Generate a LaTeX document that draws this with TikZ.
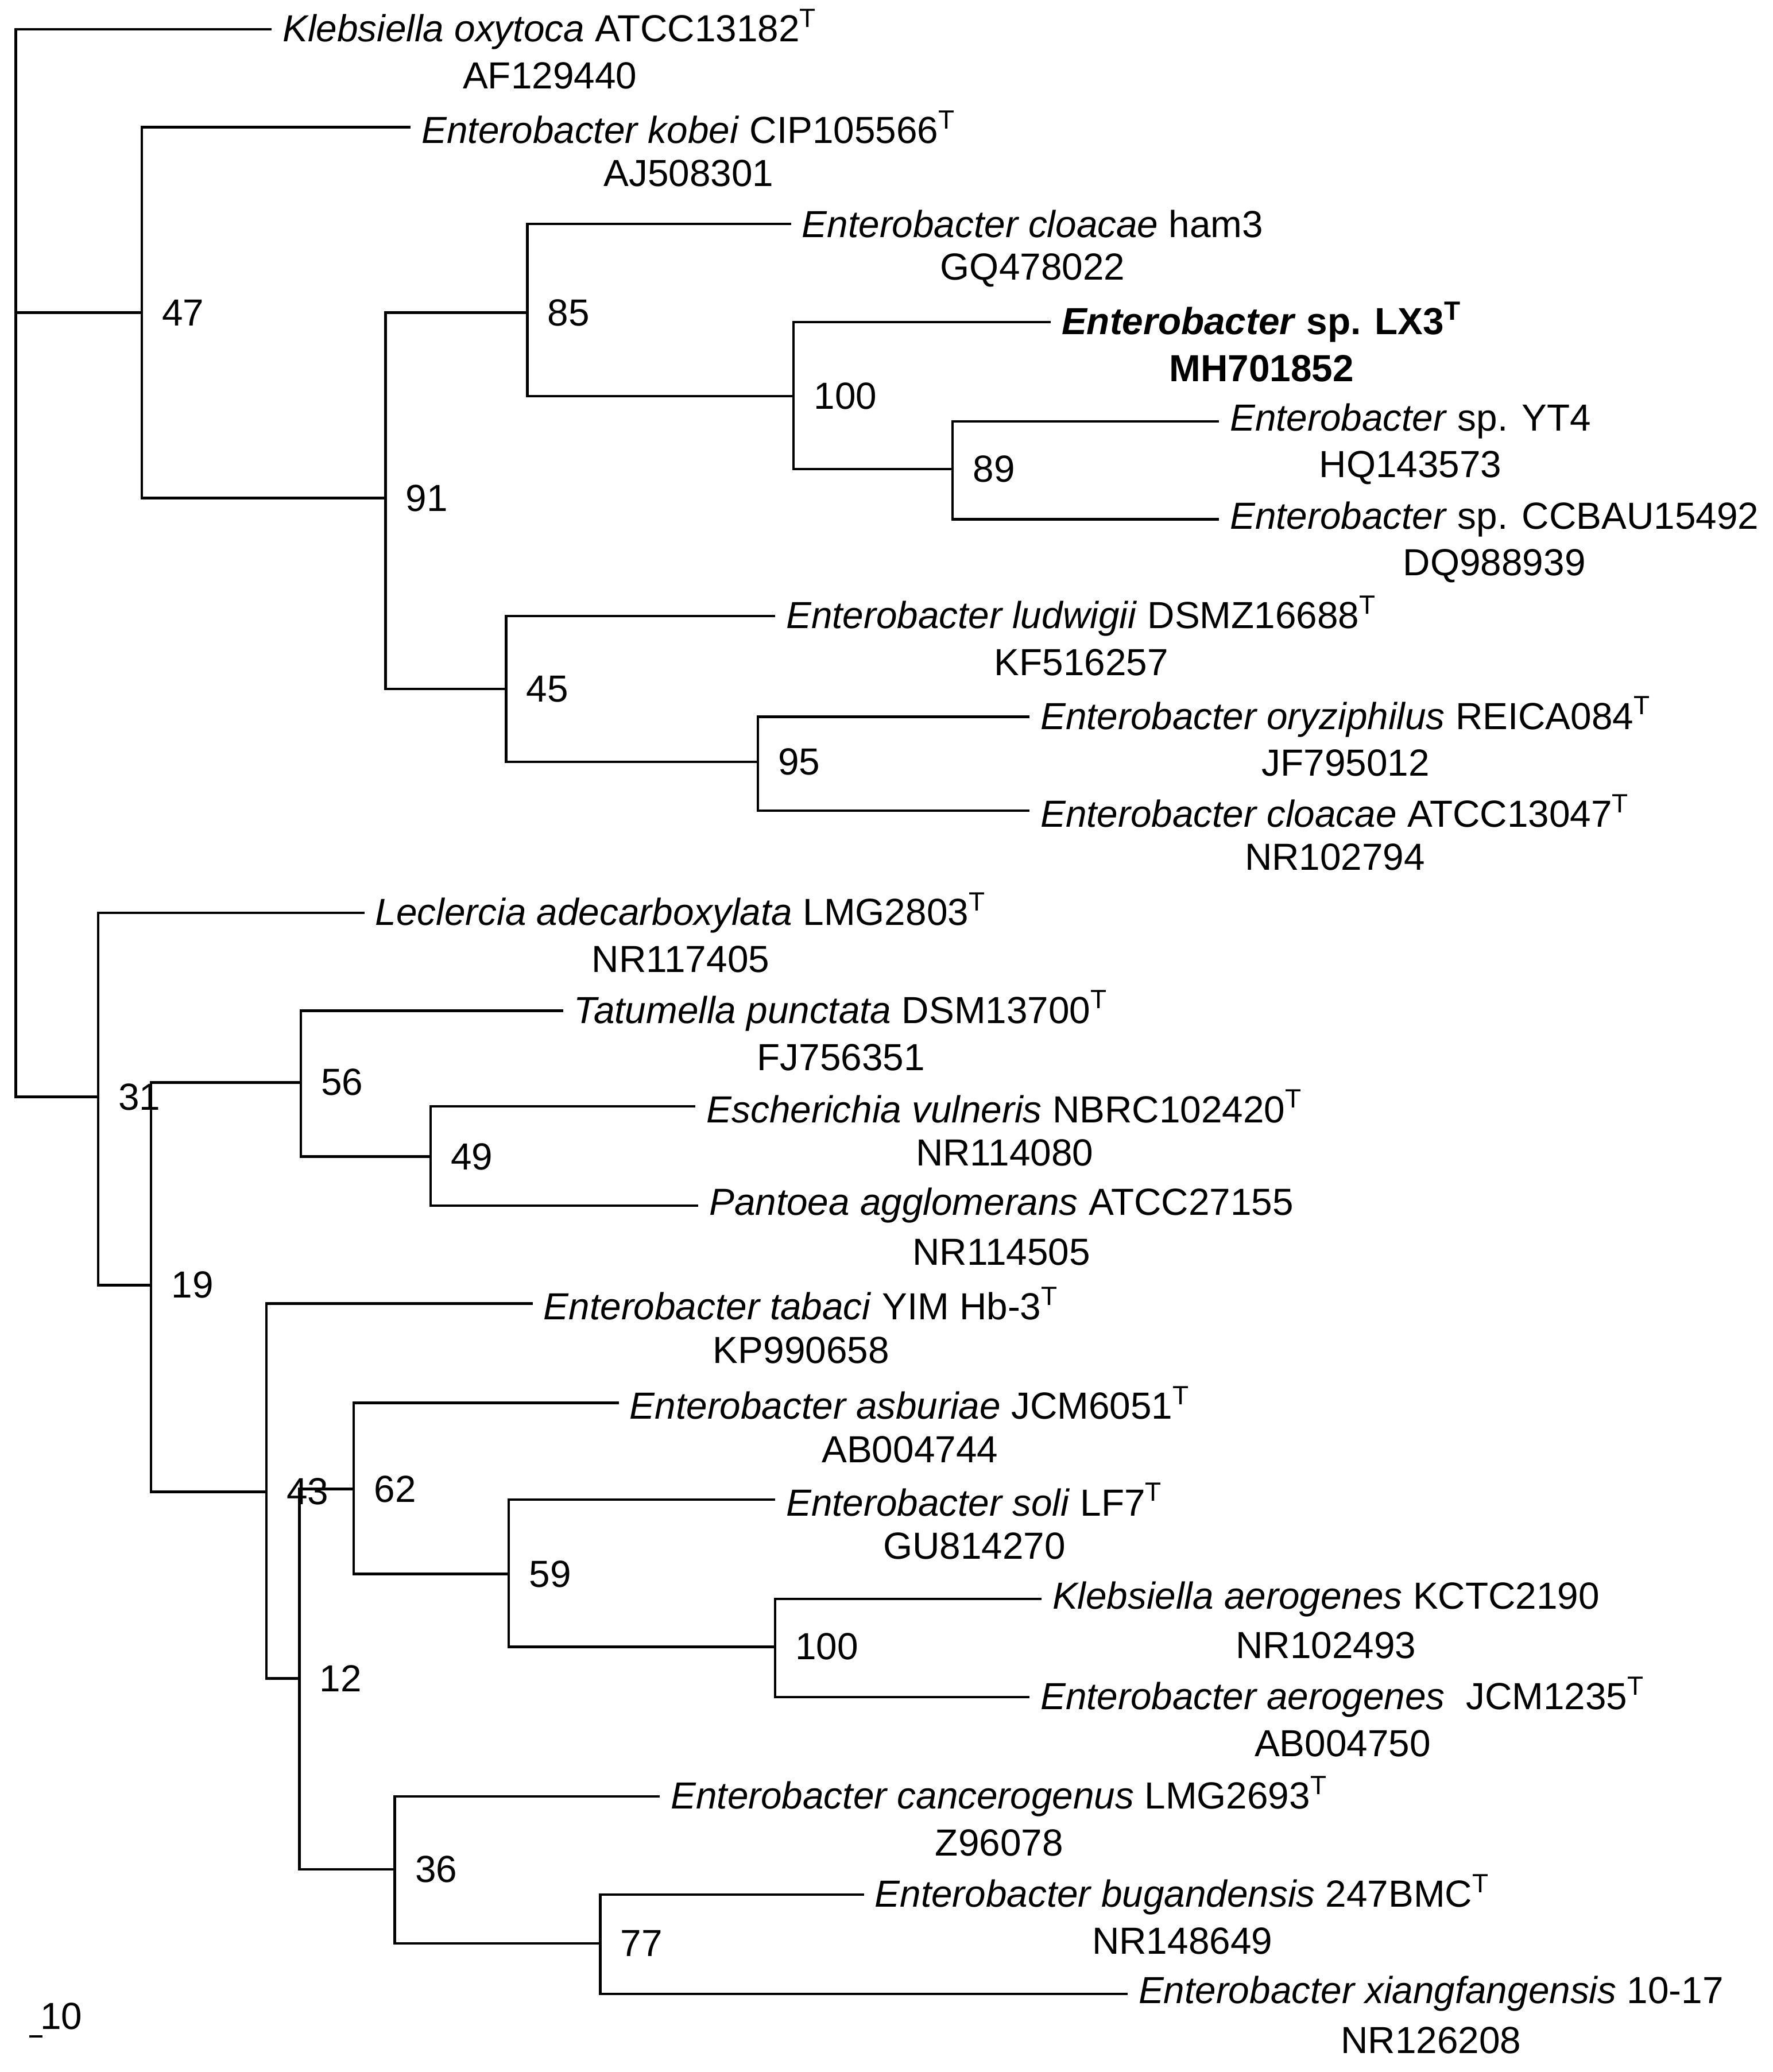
\documentclass[tikz,border=0pt]{standalone}
\usepackage{fontspec}
\setmainfont{Liberation Sans}
\begin{document}
\begin{tikzpicture}[x=0.02cm,y=-0.02cm,
  br/.style={line width=1.1pt},
  lbl/.style={anchor=west,inner sep=0pt,font=\fontsize{16.2}{18}\selectfont},
  acc/.style={inner sep=0pt,font=\fontsize{16.2}{18}\selectfont},
  bs/.style={anchor=west,inner sep=0pt,font=\fontsize{16.2}{18}\selectfont}]
\useasboundingbox (0,0) rectangle (1338,1564);
\newcommand{\T}{\textsuperscript{T}}
% \leafx{name}{parent}{tipx}{y}{label}{accession}
\newcommand{\leafx}[6]{%
  \coordinate (#1) at (#3,#4);
  \draw[br] (#2) |- (#1);
  \node[lbl] (#1l) at (#3+8,#4) {#5};
  \node[acc] (#1a) at ([yshift=-0.70cm]#1l.center) {#6};}
\newcommand{\inner}[5]{% name parent x y support
  \coordinate (#1) at (#3,#4);
  \draw[br] (#2) |- (#1);
  \node[bs] (#1s) at (#3+15,#4) {#5};}
\coordinate (root) at (12,400);
\leafx{kox}{root}{205}{22}{\textit{Klebsiella oxytoca} ATCC13182\T}{AF129440}
\inner{n47}{root}{107}{236}{47}
\leafx{kob}{n47}{310}{96}{\textit{Enterobacter kobei} CIP105566\T}{AJ508301}
\inner{n91}{n47}{291}{376}{91}
\inner{n85}{n91}{398}{236}{85}
\leafx{ham}{n85}{597}{169}{\textit{Enterobacter cloacae} ham3}{GQ478022}
\inner{n100a}{n85}{599}{299}{100}
\leafx{lx}{n100a}{793}{243}{\textbf{\textit{Enterobacter} sp. LX3\T}}{\textbf{MH701852}}
\inner{n89}{n100a}{719}{354}{89}
\leafx{yt}{n89}{920}{318}{\textit{Enterobacter} sp. YT4}{HQ143573}
\leafx{cc}{n89}{920}{392}{\textit{Enterobacter} sp. CCBAU15492}{DQ988939}
\inner{n45}{n91}{382}{520}{45}
\leafx{lud}{n45}{585}{465}{\textit{Enterobacter ludwigii} DSMZ16688\T}{KF516257}
\inner{n95}{n45}{572}{575}{95}
\leafx{ory}{n95}{777}{541}{\textit{Enterobacter oryziphilus} REICA084\T}{JF795012}
\leafx{clo}{n95}{777}{612}{\textit{Enterobacter cloacae} ATCC13047\T}{NR102794}
\inner{n31}{root}{74}{828}{31}
\leafx{lec}{n31}{275}{689}{\textit{Leclercia adecarboxylata} LMG2803\T}{NR117405}
\inner{n19}{n31}{114}{970}{19}
\inner{n56}{n19}{227}{817}{56}
\leafx{tat}{n56}{425}{763}{\textit{Tatumella punctata} DSM13700\T}{FJ756351}
\inner{n49}{n56}{325}{873}{49}
\leafx{esc}{n49}{525}{835}{\textit{Escherichia vulneris} NBRC102420\T}{NR114080}
\leafx{pan}{n49}{527}{910}{\textit{Pantoea agglomerans} ATCC27155}{NR114505}
\inner{n43}{n19}{201}{1126}{43}
\leafx{tab}{n43}{402}{984}{\textit{Enterobacter tabaci} YIM Hb-3\T}{KP990658}
\inner{n12}{n43}{226}{1267}{12}
\inner{n62}{n12}{267}{1124}{62}
\leafx{asb}{n62}{467}{1059}{\textit{Enterobacter asburiae} JCM6051\T}{AB004744}
\inner{n59}{n62}{384}{1188}{59}
\leafx{sol}{n59}{585}{1132}{\textit{Enterobacter soli} LF7\T}{GU814270}
\inner{n100b}{n59}{585}{1243}{100}
\leafx{kae}{n100b}{786}{1207}{\textit{Klebsiella aerogenes} KCTC2190}{NR102493}
\leafx{eae}{n100b}{777}{1281}{\textit{Enterobacter aerogenes}\ \ JCM1235\T}{AB004750}
\inner{n36}{n12}{298}{1411}{36}
\leafx{can}{n36}{498}{1356}{\textit{Enterobacter cancerogenus} LMG2693\T}{Z96078}
\inner{n77}{n36}{453}{1467}{77}
\leafx{bug}{n77}{652}{1430}{\textit{Enterobacter bugandensis} 247BMC\T}{NR148649}
\leafx{xia}{n77}{851}{1505}{\textit{Enterobacter xiangfangensis} 10-17}{NR126208}
% scale
\coordinate (sa) at (22,1537);
\coordinate (sb) at (32,1537);
\draw[br] (sa) -- (sb);
\node[bs] (scl) at (30,1522) {10};
\end{tikzpicture}
\end{document}
